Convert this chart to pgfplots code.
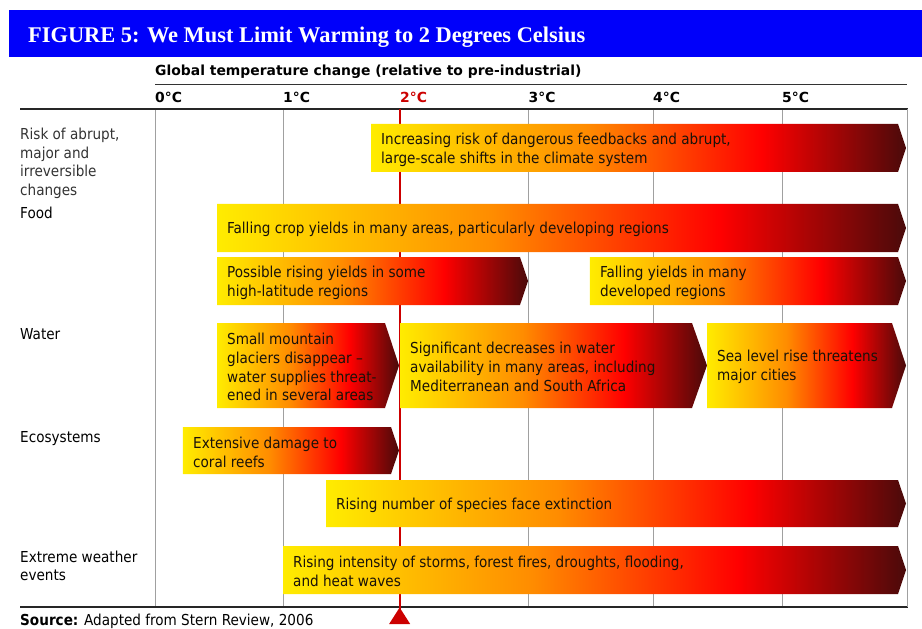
\documentclass[border=0pt]{standalone}
\usepackage{pgfplots}
\pgfplotsset{compat=1.18}
\usepackage{fontspec}
\setmainfont{DejaVu Sans Condensed}
\newfontfamily\titlefont{Liberation Serif}
\newfontfamily\headfont{DejaVu Sans}
\definecolor{c0}{RGB}{255,236,0}
\definecolor{c1}{RGB}{255,140,0}
\definecolor{c2}{RGB}{255,0,0}
\definecolor{c3}{RGB}{74,10,10}
\definecolor{titleblue}{RGB}{0,0,250}
\definecolor{redline}{RGB}{204,0,0}
\definecolor{txt}{RGB}{25,18,10}
\definecolor{gridgray}{RGB}{160,160,160}
\pgfdeclarehorizontalshading{arrowshade}{100bp}{color(0bp)=(c0); color(25bp)=(c0); color(45bp)=(c1); color(61.5bp)=(c2); color(75bp)=(c3); color(100bp)=(c3)}
\newcommand{\arrowfont}{\fontsize{15.1bp}{18.8bp}\selectfont}
\newcommand{\headfontsz}{\headfont\bfseries\fontsize{13.9bp}{16bp}\selectfont}
\tikzset{arrtxt/.style={anchor=west, align=left, inner sep=0pt, xshift=10bp, yshift=-1.5bp, font=\arrowfont, text=txt},
         rowlab/.style={anchor=base west, inner sep=0pt, font=\arrowfont}}
\begin{document}
\begin{tikzpicture}
% title bar
\fill[titleblue] (9bp,572bp) rectangle (922bp,619bp);
\node[anchor=base west, inner sep=0pt, text=white, font=\titlefont\bfseries\fontsize{22.4bp}{26bp}\selectfont] at (28bp,586bp) {FIGURE 5: We Must Limit Warming to 2 Degrees Celsius};
\node[anchor=base west, inner sep=0pt, font=\headfontsz] at (155bp,553bp) {Global temperature change (relative to pre-industrial)};
\begin{axis}[
  at={(155bp,22bp)}, anchor=south west,
  scale only axis, width=752bp, height=498bp,
  xmin=0, xmax=6, ymin=109, ymax=607, y dir=reverse,
  clip=false,
  axis line style={draw=none},
  major tick length=0pt,
  ytick=\empty,
  xtick={0,1.0213,1.9548,2.980,3.9734,5.0027},
  xticklabels={0°C,1°C,{\color{redline}2°C},3°C,4°C,5°C},
  xticklabel pos=upper,
  xticklabel style={anchor=base west, inner sep=0pt, yshift=6bp, font=\headfontsz},
  xmajorgrids,
  grid style={color=gridgray, line width=0.9bp},
]
% decorative rules
\draw[color=black!80, line width=0.9bp] (axis cs:0,84) -- (axis cs:6,84);
\draw[color=black!85, line width=2bp] (axis cs:-1.077,109) -- (axis cs:6.01,109);
\draw[color=black!85, line width=2bp] (axis cs:-1.077,606.5) -- (axis cs:6.01,606.5);
\draw[color=gridgray, line width=0.9bp] (axis cs:6.0,109) -- (axis cs:6.0,606.5);
% 2 degree limit line and marker
\addplot[redline, line width=2.2bp, forget plot] coordinates {(1.9548,109) (1.9548,609)};
\addplot[draw=none, fill=redline, forget plot] coordinates {(1.868,624) (2.036,624) (1.952,607.5)} -- cycle;
% arrows: (x0,top) (body end,top) (tip,mid) (body end,bottom) (x0,bottom)
\addplot[draw=none, shading=arrowshade, forget plot] coordinates {(1.7234,124) (5.9282,124) (5.9920,148) (5.9282,172) (1.7234,172)} -- cycle;
\addplot[draw=none, shading=arrowshade, forget plot] coordinates {(0.4947,204) (5.9282,204) (5.9920,228) (5.9282,252) (0.4947,252)} -- cycle;
\addplot[draw=none, shading=arrowshade, forget plot] coordinates {(0.4947,257) (2.9122,257) (2.9761,281) (2.9122,305) (0.4947,305)} -- cycle;
\addplot[draw=none, shading=arrowshade, forget plot] coordinates {(3.4707,257) (5.9282,257) (5.9920,281) (5.9282,305) (3.4707,305)} -- cycle;
\addplot[draw=none, shading=arrowshade, forget plot] coordinates {(0.4947,323) (1.8351,323) (1.9468,365.5) (1.8351,408) (0.4947,408)} -- cycle;
\addplot[draw=none, shading=arrowshade, forget plot] coordinates {(1.9548,323) (4.2846,323) (4.4043,365.5) (4.2846,408) (1.9548,408)} -- cycle;
\addplot[draw=none, shading=arrowshade, forget plot] coordinates {(4.4043,323) (5.8803,323) (5.9920,365.5) (5.8803,408) (4.4043,408)} -- cycle;
\addplot[draw=none, shading=arrowshade, forget plot] coordinates {(0.2234,427) (1.8830,427) (1.9468,450.5) (1.8830,474) (0.2234,474)} -- cycle;
\addplot[draw=none, shading=arrowshade, forget plot] coordinates {(1.3644,480) (5.9282,480) (5.9920,503.5) (5.9282,527) (1.3644,527)} -- cycle;
\addplot[draw=none, shading=arrowshade, forget plot] coordinates {(1.0213,546) (5.9282,546) (5.9920,570) (5.9282,594) (1.0213,594)} -- cycle;
% arrow texts
\node[arrtxt] at (axis cs:1.7234,148) {Increasing risk of dangerous feedbacks and abrupt,\\large-scale shifts in the climate system};
\node[arrtxt] at (axis cs:0.4947,228) {Falling crop yields in many areas, particularly developing regions};
\node[arrtxt] at (axis cs:0.4947,281) {Possible rising yields in some\\high-latitude regions};
\node[arrtxt] at (axis cs:3.4707,281) {Falling yields in many\\developed regions};
\node[arrtxt] at (axis cs:0.4947,365.5) {Small mountain\\glaciers disappear –\\water supplies threat-\\ened in several areas};
\node[arrtxt] at (axis cs:1.9548,365.5) {Significant decreases in water\\availability in many areas, including\\Mediterranean and South Africa};
\node[arrtxt] at (axis cs:4.4043,365.5) {Sea level rise threatens\\major cities};
\node[arrtxt] at (axis cs:0.2234,450.5) {Extensive damage to\\coral reefs};
\node[arrtxt] at (axis cs:1.3644,503.5) {Rising number of species face extinction};
\node[arrtxt] at (axis cs:1.0213,570) {Rising intensity of storms, forest fires, droughts, flooding,\\and heat waves};
% row labels
\node[rowlab, text=black!80] at (axis cs:-1.077,140) {Risk of abrupt,};
\node[rowlab, text=black!80] at (axis cs:-1.077,158.5) {major and};
\node[rowlab, text=black!80] at (axis cs:-1.077,177) {irreversible};
\node[rowlab, text=black!80] at (axis cs:-1.077,195.5) {changes};
\node[rowlab] at (axis cs:-1.077,219) {Food};
\node[rowlab] at (axis cs:-1.077,339) {Water};
\node[rowlab] at (axis cs:-1.077,442) {Ecosystems};
\node[rowlab] at (axis cs:-1.077,562) {Extreme weather};
\node[rowlab] at (axis cs:-1.077,580) {events};
\node[rowlab] at (axis cs:-1.077,625) {\textbf{Source:} Adapted from Stern Review, 2006};
\end{axis}
\pgfresetboundingbox
\useasboundingbox (0,0) rectangle (922bp,629bp);
\end{tikzpicture}
\end{document}
